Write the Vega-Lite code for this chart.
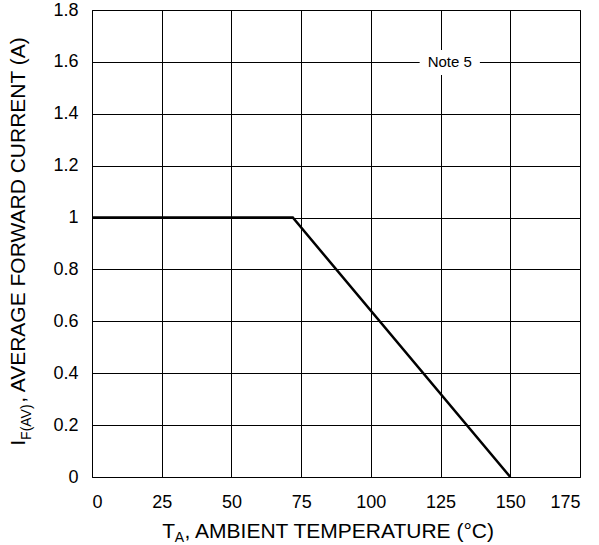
{
  "$schema": "https://vega.github.io/schema/vega-lite/v6.json",
  "width": 488,
  "height": 467,
  "autosize": {"type": "none"},
  "padding": {"left": 92, "top": 10, "right": 19, "bottom": 68},
  "background": "white",
  "config": {
    "font": "Liberation Sans",
    "view": {"stroke": "black", "strokeWidth": 1},
    "axis": {
      "grid": true, "gridColor": "black", "gridOpacity": 1, "gridWidth": 1,
      "ticks": false, "domain": false,
      "labelFont": "Liberation Sans", "labelFontSize": 18, "labelColor": "black",
      "title": null
    }
  },
  "datasets": {
    "curve": [{"t": 0, "i": 1}, {"t": 72, "i": 1}, {"t": 150, "i": 0}],
    "note": [{"t1": 117.5, "t2": 139.1, "i1": 1.549, "i2": 1.646, "t": 128.3, "i": 1.6, "label": "Note 5"}],
    "xmain": [{"t": 25.2, "i": -0.234, "label": "T"}, {"t": 33.2, "i": -0.234, "label": ", AMBIENT TEMPERATURE (°C)"}],
    "xsub": [{"t": 29.7, "i": -0.251, "label": "A"}],
    "ymain": [{"t": -24.1, "i": 0.12, "label": "I"}, {"t": -24.1, "i": 0.286, "label": ", AVERAGE FORWARD CURRENT (A)"}],
    "ysub": [{"t": -22, "i": 0.143, "label": "F(AV)"}]
  },
  "layer": [
    {
      "data": {"name": "curve"},
      "mark": {"type": "line", "color": "black", "strokeWidth": 2.5, "clip": true},
      "encoding": {
        "x": {"field": "t", "type": "quantitative",
              "scale": {"domain": [0, 175], "nice": false, "zero": false},
              "axis": {"values": [0, 25, 50, 75, 100, 125, 150, 175], "format": "d", "labelPadding": 16}},
        "y": {"field": "i", "type": "quantitative",
              "scale": {"domain": [0, 1.8], "nice": false, "zero": false},
              "axis": {"values": [0, 0.2, 0.4, 0.6, 0.8, 1, 1.2, 1.4, 1.6, 1.8], "format": "~g", "labelPadding": 14}}
      }
    },
    {
      "data": {"name": "note"},
      "mark": {"type": "rect", "color": "white"},
      "encoding": {
        "x": {"field": "t1", "type": "quantitative"},
        "x2": {"field": "t2"},
        "y": {"field": "i1", "type": "quantitative"},
        "y2": {"field": "i2"}
      }
    },
    {
      "data": {"name": "note"},
      "mark": {"type": "text", "fontSize": 15, "color": "black", "align": "center", "baseline": "middle"},
      "encoding": {
        "x": {"field": "t", "type": "quantitative"},
        "y": {"field": "i", "type": "quantitative"},
        "text": {"field": "label"}
      }
    },
    {
      "data": {"name": "xmain"},
      "mark": {"type": "text", "fontSize": 21, "color": "black", "align": "left", "baseline": "alphabetic"},
      "encoding": {
        "x": {"field": "t", "type": "quantitative"},
        "y": {"field": "i", "type": "quantitative"},
        "text": {"field": "label"}
      }
    },
    {
      "data": {"name": "xsub"},
      "mark": {"type": "text", "fontSize": 14, "color": "black", "align": "left", "baseline": "alphabetic"},
      "encoding": {
        "x": {"field": "t", "type": "quantitative"},
        "y": {"field": "i", "type": "quantitative"},
        "text": {"field": "label"}
      }
    },
    {
      "data": {"name": "ymain"},
      "mark": {"type": "text", "fontSize": 21, "color": "black", "align": "left", "baseline": "alphabetic", "angle": 270},
      "encoding": {
        "x": {"field": "t", "type": "quantitative"},
        "y": {"field": "i", "type": "quantitative"},
        "text": {"field": "label"}
      }
    },
    {
      "data": {"name": "ysub"},
      "mark": {"type": "text", "fontSize": 14, "color": "black", "align": "left", "baseline": "alphabetic", "angle": 270},
      "encoding": {
        "x": {"field": "t", "type": "quantitative"},
        "y": {"field": "i", "type": "quantitative"},
        "text": {"field": "label"}
      }
    }
  ]
}
